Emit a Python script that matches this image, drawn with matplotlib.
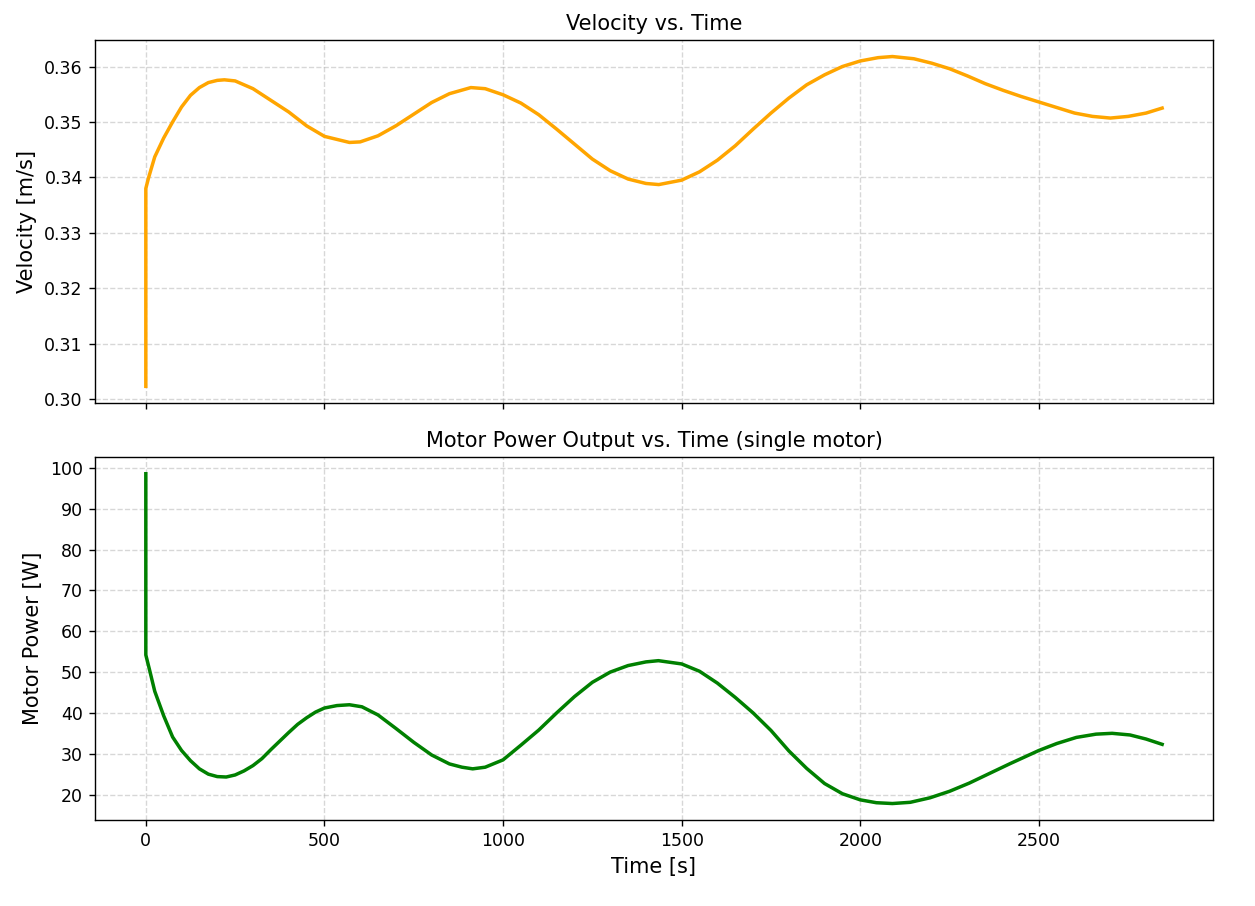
import matplotlib
matplotlib.use("Agg")
import matplotlib.pyplot as plt

# values
time_v = [0, 0, 8, 25, 50, 75, 100, 125, 150, 175, 200, 220, 250, 300, 350, 400,
          450, 500, 570, 600, 650, 700, 750, 800, 850, 910, 950, 1000, 1050, 1100,
          1150, 1200, 1250, 1300, 1350, 1400, 1436, 1500, 1550, 1600, 1650, 1700,
          1750, 1800, 1850, 1900, 1950, 2000, 2050, 2090, 2150, 2200, 2250, 2300,
          2350, 2400, 2450, 2500, 2550, 2600, 2650, 2700, 2750, 2800, 2845]

velocity = [0.3023, 0.3380, 0.3400, 0.3437, 0.3471, 0.3500, 0.3527, 0.3548, 0.3562,
            0.3571, 0.3575, 0.3576, 0.3574, 0.3560, 0.3539, 0.3518, 0.3493, 0.3474,
            0.3463, 0.3464, 0.3475, 0.3493, 0.3514, 0.3535, 0.3551, 0.3562, 0.3560,
            0.3549, 0.3534, 0.3513, 0.3487, 0.3460, 0.3433, 0.3412, 0.3397, 0.3389,
            0.3387, 0.3395, 0.3410, 0.3431, 0.3457, 0.3487, 0.3516, 0.3543, 0.3567,
            0.3585, 0.3600, 0.3610, 0.3616, 0.3618, 0.3614, 0.3606, 0.3596, 0.3583,
            0.3569, 0.3557, 0.3546, 0.3536, 0.3526, 0.3516, 0.3510, 0.3507, 0.3510,
            0.3516, 0.3525]

time_p = [0, 0, 10, 25, 50, 75, 100, 125, 150, 175, 200, 225, 250, 275, 300, 325,
          350, 375, 400, 425, 450, 475, 500, 535, 570, 605, 650, 700, 750, 800, 850,
          885, 915, 950, 1000, 1050, 1100, 1150, 1200, 1250, 1300, 1350, 1400, 1435,
          1500, 1550, 1600, 1650, 1700, 1750, 1800, 1850, 1900, 1950, 2000, 2045,
          2090, 2140, 2195, 2250, 2305, 2360, 2420, 2475, 2500, 2550, 2605, 2660,
          2705, 2755, 2800, 2845]

power = [98.6, 54.2, 50.7, 45.3, 39.3, 34.1, 30.8, 28.3, 26.3, 25.0, 24.4, 24.3,
         24.8, 25.8, 27.1, 28.8, 31.0, 33.1, 35.2, 37.2, 38.8, 40.2, 41.2, 41.8,
         42.0, 41.5, 39.5, 36.2, 32.8, 29.7, 27.5, 26.7, 26.3, 26.7, 28.5, 32.1,
         35.8, 40.0, 44.0, 47.5, 50.0, 51.6, 52.5, 52.8, 52.0, 50.2, 47.3, 43.8,
         40.0, 35.7, 30.7, 26.4, 22.7, 20.2, 18.7, 18.0, 17.8, 18.1, 19.2, 20.8,
         22.8, 25.1, 27.6, 29.8, 30.8, 32.5, 34.0, 34.8, 35.0, 34.6, 33.6, 32.3]

fig, (ax1, ax2) = plt.subplots(2, 1, sharex=True, figsize=(10.04, 7.248), dpi=125)
fig.subplots_adjust(left=0.0757, right=0.9665, top=0.9558, bottom=0.0949, hspace=0.15)

ax1.plot(time_v, velocity, color="orange", linewidth=2)
ax1.set_title("Velocity vs. Time", fontsize=12)
ax1.set_ylabel("Velocity [m/s]", fontsize=12)
ax1.grid(True, linestyle="--", alpha=0.5)

ax2.plot(time_p, power, color="green", linewidth=2)
ax2.set_title("Motor Power Output vs. Time (single motor)", fontsize=12)
ax2.set_ylabel("Motor Power [W]", fontsize=12)
ax2.set_xlabel("Time [s]", fontsize=12)
ax2.grid(True, linestyle="--", alpha=0.5)

fig.savefig("out.png", dpi=125)
